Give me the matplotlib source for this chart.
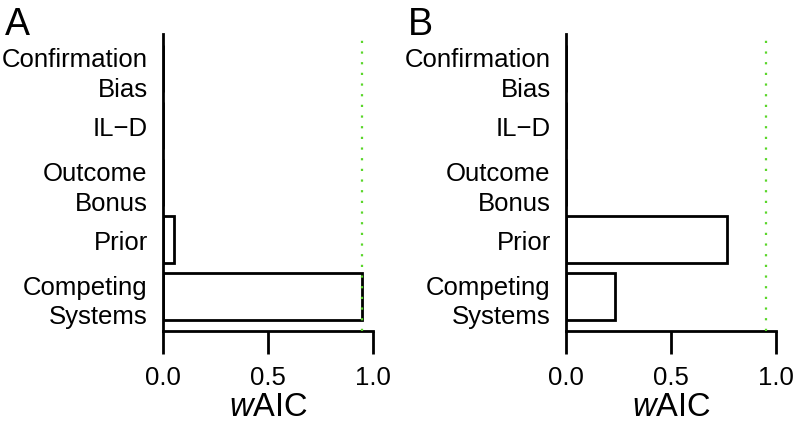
import matplotlib
matplotlib.use("Agg")
import matplotlib.pyplot as plt

plt.rcParams['font.family'] = ['Liberation Sans', 'DejaVu Sans']
plt.rcParams['mathtext.fontset'] = 'custom'
plt.rcParams['mathtext.rm'] = 'Liberation Sans'
plt.rcParams['mathtext.it'] = 'Liberation Sans:italic'

# categories bottom to top
models = ["Competing\nSystems", "Prior", "Outcome\nBonus", "IL\u2212D", "Confirmation\nBias"]
waic_a = [0.95, 0.05, 0.0, 0.0, 0.0]
waic_b = [0.235, 0.765, 0.0, 0.0, 0.0]
panels = ["A", "B"]
threshold = 0.95
xticks = [0.0, 0.5, 1.0]

W, H = 793, 439
fig = plt.figure(figsize=(W / 100, H / 100), dpi=100)

# R barplot style positions: width 1, space 0.2
pos = [0.7 + 1.2 * i for i in range(len(models))]

for k, (vals, left_px, letter_px) in enumerate([(waic_a, 163, 5), (waic_b, 566, 408)]):
    ax = fig.add_axes([left_px / W, (H - 332) / H, 210 / W, 297 / H])
    ax.barh(pos, vals, height=1.0, left=0, color="white", edgecolor="black",
            linewidth=2.0, zorder=2)
    ax.axvline(threshold, color="#5ad62a", linestyle=(0, (1, 3.8)), linewidth=1.6, zorder=3)
    ax.set_xlim(0, 1)
    ax.set_ylim(-0.032, 6.232)
    for s in ["top", "right"]:
        ax.spines[s].set_visible(False)
    ax.spines["left"].set_linewidth(2.0)
    ax.spines["bottom"].set_linewidth(2.0)
    ax.set_yticks(pos)
    ax.set_yticklabels(models, fontsize=18.5, linespacing=1.3)
    ax.tick_params(axis="y", length=0, pad=11)
    ax.set_xticks(xticks)
    ax.set_xticklabels(["%.1f" % t for t in xticks], fontsize=18.5)
    ax.tick_params(axis="x", length=16.5, width=2.0, pad=8)
    ax.set_xlabel(r"$\mathit{w}$AIC", fontsize=23.5, labelpad=1.5)
    fig.text(letter_px / W, 1 - 35 / H, panels[k], fontsize=27, va="baseline", ha="left")

fig.savefig("out.png", dpi=100)
